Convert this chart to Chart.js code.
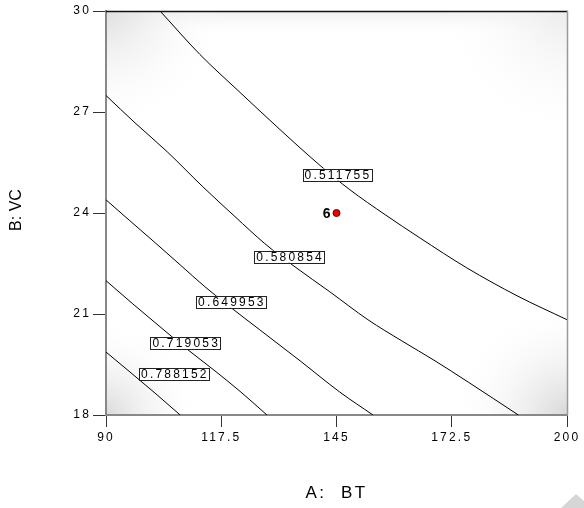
<!DOCTYPE html>
<html lang="en">
<head>
<meta charset="UTF-8">
<title>Contour: A: BT vs B: VC</title>
<script src="https://cdn.jsdelivr.net/npm/chart.js"></script>
<style>
  body { margin: 0; background: #fff; }
  #wrap { width: 584px; height: 508px; }
</style>
</head>
<body>
<div id="wrap"><canvas id="contourChart" width="584" height="508"></canvas></div>
<script>
// contour levels, one traced line per level (x = A: BT, y = B: VC)
const levels = ['0.511755', '0.580854', '0.649953', '0.719053', '0.788152'];

const line1X = [102.9, 112.4, 122.0, 131.5, 141.1, 148.2, 156.6, 164.9, 176.1, 188.1, 200.0];
const line1Y = [30.00, 28.71, 27.58, 26.48, 25.41, 24.69, 23.95, 23.26, 22.37, 21.54, 20.83];

const line2X = [90.0, 96.9, 104.6, 113.1, 120.8, 127.9, 135.1, 143.4, 152.5, 160.6, 168.5, 176.4, 188.4];
const line2Y = [27.49, 26.68, 25.82, 24.78, 23.89, 23.09, 22.40, 21.66, 20.83, 20.20, 19.61, 18.98, 18.00];

const line3X = [90.0, 95.7, 101.7, 107.7, 113.6, 119.6, 126.7, 136.3, 145.8, 153.7];
const line3Y = [24.39, 23.77, 23.12, 22.46, 21.81, 21.21, 20.53, 19.61, 18.68, 18.00];

const line4X = [90.0, 96.4, 102.9, 109.3, 116.0, 122.2, 128.4];
const line4Y = [21.99, 21.30, 20.62, 19.96, 19.31, 18.68, 18.00];

const line5X = [90.0, 95.7, 101.7, 107.7];
const line5Y = [19.87, 19.28, 18.65, 18.00];

// where each level's label box sits
const labelX = [145.1, 133.7, 119.8, 108.9, 106.2];
const labelY = [25.14, 22.70, 21.36, 20.14, 19.22];

// design point
const runX = [145];
const runY = [24];
const runLabel = ['6'];

const xTicks = [90, 117.5, 145, 172.5, 200];
const yTicks = [18, 21, 24, 27, 30];

const lineXs = [line1X, line2X, line3X, line4X, line5X];
const lineYs = [line1Y, line2Y, line3Y, line4Y, line5Y];

const FONT = "'Liberation Sans', Arial, sans-serif";
const SPACING = '2.2px';

const contourSets = lineXs.map((xs, i) => ({
  label: levels[i],
  data: xs.map((x, j) => ({ x: x, y: lineYs[i][j] })),
  borderColor: '#000',
  borderWidth: 1,
  pointRadius: 0,
  fill: false,
  cubicInterpolationMode: 'monotone'
}));

const runSet = {
  label: 'runs',
  data: runX.map((x, i) => ({ x: x, y: runY[i] })),
  showLine: false,
  pointRadius: 3.5,
  pointBackgroundColor: '#ee0000',
  pointBorderColor: '#660000',
  pointBorderWidth: 1
};

// grey shading in the corners of the plot area + text spacing
const background = {
  id: 'background',
  beforeDraw(chart) {
    const { ctx, chartArea: a } = chart;
    ctx.letterSpacing = SPACING;
    ctx.save();
    ctx.beginPath();
    ctx.rect(a.left, a.top, a.width, a.height);
    ctx.clip();
    ctx.fillStyle = '#fff';
    ctx.fillRect(a.left, a.top, a.width, a.height);
    const top = ctx.createLinearGradient(0, a.top, 0, a.top + 26);
    top.addColorStop(0, 'rgba(238,238,238,1)');
    top.addColorStop(1, 'rgba(255,255,255,0)');
    ctx.fillStyle = top;
    ctx.fillRect(a.left, a.top, a.width, 26);
    const corners = [
      [a.left, a.top, 120, 'rgba(224,224,224,1)'],
      [a.left, a.bottom, 95, 'rgba(218,218,218,1)'],
      [a.right, a.bottom, 115, 'rgba(216,216,216,1)'],
      [a.right, a.top, 130, 'rgba(236,236,236,1)']
    ];
    corners.forEach(([cx, cy, r, c]) => {
      const g = ctx.createRadialGradient(cx, cy, 0, cx, cy, r);
      g.addColorStop(0, c);
      g.addColorStop(1, 'rgba(255,255,255,0)');
      ctx.fillStyle = g;
      ctx.fillRect(cx - r, cy - r, 2 * r, 2 * r);
    });
    ctx.restore();
  }
};

// boxed level labels and the run number
const labels = {
  id: 'labels',
  afterDatasetsDraw(chart) {
    const { ctx } = chart;
    const xs = chart.scales.x, ys = chart.scales.y;
    ctx.save();
    ctx.font = '12px ' + FONT;
    ctx.letterSpacing = SPACING;
    ctx.textBaseline = 'middle';
    ctx.textAlign = 'left';
    levels.forEach((txt, i) => {
      const cx = xs.getPixelForValue(labelX[i]);
      const cy = ys.getPixelForValue(labelY[i]);
      const w = ctx.measureText(txt).width + 2;
      const h = 12;
      ctx.fillStyle = '#fff';
      ctx.fillRect(cx - w / 2, cy - h / 2, w, h);
      ctx.strokeStyle = '#222';
      ctx.lineWidth = 1;
      ctx.strokeRect(Math.round(cx - w / 2) + 0.5, Math.round(cy - h / 2) + 0.5, Math.round(w), h);
      ctx.fillStyle = '#000';
      ctx.fillText(txt, cx - w / 2 + 2, cy + 1);
    });
    ctx.font = 'bold 14px ' + FONT;
    ctx.letterSpacing = '1px';
    ctx.textAlign = 'right';
    runLabel.forEach((txt, i) => {
      const px = xs.getPixelForValue(runX[i]);
      const py = ys.getPixelForValue(runY[i]);
      ctx.fillStyle = '#000';
      ctx.fillText(txt, px - 5, py + 1);
    });
    ctx.restore();
  }
};

// top/right frame, axis titles and the corner marker
const frame = {
  id: 'frame',
  afterDraw(chart) {
    const { ctx, chartArea: a } = chart;
    ctx.save();
    ctx.strokeStyle = '#111';
    ctx.lineWidth = 1.5;
    ctx.beginPath();
    ctx.moveTo(a.left, a.top + 0.5);
    ctx.lineTo(a.right + 1, a.top + 0.5);
    ctx.stroke();
    ctx.strokeStyle = '#999';
    ctx.lineWidth = 1.5;
    ctx.beginPath();
    ctx.moveTo(a.right + 0.5, a.top);
    ctx.lineTo(a.right + 0.5, a.bottom);
    ctx.stroke();

    ctx.fillStyle = '#000';
    ctx.textAlign = 'center';
    ctx.textBaseline = 'middle';
    ctx.font = '17px ' + FONT;
    ctx.letterSpacing = '2.5px';
    ctx.fillText('A:  BT', (a.left + a.right) / 2, chart.height - 15);

    ctx.font = '16px ' + FONT;
    ctx.letterSpacing = '0px';
    ctx.translate(17, (a.top + a.bottom) / 2 - 3);
    ctx.rotate(-Math.PI / 2);
    ctx.fillText('B: VC', 0, 0);
    ctx.restore();

    ctx.save();
    ctx.fillStyle = '#d6d6d6';
    ctx.beginPath();
    ctx.moveTo(561, 508);
    ctx.lineTo(576, 494);
    ctx.lineTo(584, 501);
    ctx.lineTo(584, 508);
    ctx.closePath();
    ctx.fill();
    ctx.restore();
  }
};

new Chart(document.getElementById('contourChart'), {
  type: 'line',
  data: { datasets: contourSets.concat([runSet]) },
  options: {
    responsive: false,
    animation: false,
    layout: { padding: { top: 11, right: 17, left: 0, bottom: 0 } },
    plugins: { legend: { display: false }, tooltip: { enabled: false } },
    scales: {
      x: {
        type: 'linear',
        position: 'bottom',
        min: 90,
        max: 200,
        afterBuildTicks: s => { s.ticks = xTicks.map(v => ({ value: v })); },
        afterFit: s => { s.height = 93; },
        grid: { drawOnChartArea: false, tickLength: 12, tickColor: '#333', tickWidth: 1 },
        border: { color: '#888', width: 2 },
        ticks: {
          padding: 3,
          color: '#000',
          maxRotation: 0,
          autoSkip: false,
          font: { family: FONT, size: 12 },
          callback: v => String(v)
        }
      },
      y: {
        type: 'linear',
        min: 18,
        max: 30,
        afterBuildTicks: s => { s.ticks = yTicks.map(v => ({ value: v })); },
        afterFit: s => { s.width = 106; },
        grid: { drawOnChartArea: false, tickLength: 13, tickColor: '#333', tickWidth: 1 },
        border: { color: '#888', width: 2 },
        ticks: {
          padding: 2,
          color: '#000',
          autoSkip: false,
          font: { family: FONT, size: 12 },
          callback: v => String(v)
        }
      }
    }
  },
  plugins: [background, labels, frame]
});
</script>
</body>
</html>
